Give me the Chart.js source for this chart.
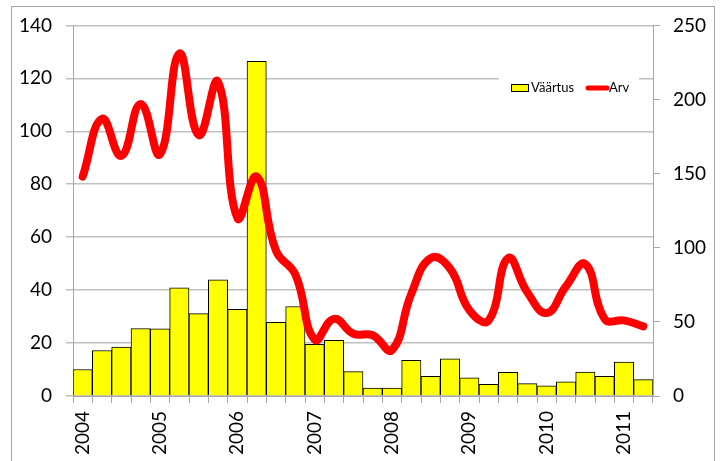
<!DOCTYPE html>
<html>
<head>
<meta charset="utf-8">
<script src="https://cdn.jsdelivr.net/npm/chart.js@4"></script>
<style>
  html, body { margin: 0; padding: 0; background: #fff; }
  canvas { display: block; }
</style>
</head>
<body>
<canvas id="chart" width="721" height="461"></canvas>
<script>
// quarterly categories, 2004 Q1 .. 2011 Q2
const tickLabels = [
    '2004', '', '', '',
    '2005', '', '', '',
    '2006', '', '', '',
    '2007', '', '', '',
    '2008', '', '', '',
    '2009', '', '', '',
    '2010', '', '', '',
    '2011', ''
];

// left axis (bars)
const vaartus = [10, 17.2, 18.5, 25.5, 25.4, 40.9, 31.1, 43.9, 32.7, 126.4,
    27.8, 33.8, 19.5, 21.0, 9.2, 3.0, 3.0, 13.5, 7.4, 14.0,
    6.9, 4.4, 8.9, 4.7, 3.8, 5.4, 9.0, 7.4, 12.8, 6.2];

// right axis (line)
const arv = [148, 187, 162, 197, 163, 231, 176, 212, 120, 148,
    98, 82, 38, 52, 42, 41, 31, 69, 93, 86,
    58, 51, 93, 70, 56, 74, 89, 52, 51, 47];

const FONT = 'Lato, "Open Sans", sans-serif';

const frame = {
    id: 'frame',
    beforeDraw(chart) {
        const ctx = chart.ctx;
        ctx.save();
        ctx.fillStyle = '#fff';
        ctx.fillRect(0, 0, chart.width, chart.height);
        ctx.strokeStyle = '#a6a6a6';
        ctx.lineWidth = 1;
        ctx.strokeRect(11.5, 6.5, 703, 470);
        ctx.restore();
    }
};

const boxLegend = {
    id: 'boxLegend',
    afterDatasetsDraw(chart) {
        const ctx = chart.ctx;
        ctx.save();
        ctx.fillStyle = '#fff';
        ctx.fillRect(499, 70, 140, 36);
        // bar key
        ctx.fillStyle = '#ffff00';
        ctx.fillRect(511, 84, 18, 8);
        ctx.strokeStyle = '#000';
        ctx.lineWidth = 1;
        ctx.strokeRect(511.5, 84.5, 17, 7);
        ctx.font = '13px ' + FONT;
        ctx.fillStyle = '#000';
        ctx.textBaseline = 'middle';
        ctx.fillText('Väärtus', 531, 88);
        // line key
        ctx.strokeStyle = '#ff0000';
        ctx.lineWidth = 5;
        ctx.lineCap = 'round';
        ctx.beginPath();
        ctx.moveTo(588, 88);
        ctx.lineTo(607, 88);
        ctx.stroke();
        ctx.fillStyle = '#000';
        ctx.fillText('Arv', 609, 88);
        ctx.restore();
    }
};

new Chart(document.getElementById('chart'), {
    data: {
        labels: tickLabels,
        datasets: [
            {
                type: 'line',
                label: 'Arv',
                data: arv,
                yAxisID: 'y1',
                borderColor: '#ff0000',
                borderWidth: 8,
                borderCapStyle: 'round',
                borderJoinStyle: 'round',
                pointRadius: 0,
                tension: 0.45,
                order: 0
            },
            {
                type: 'bar',
                label: 'Väärtus',
                data: vaartus,
                yAxisID: 'y',
                backgroundColor: '#ffff00',
                borderColor: '#000',
                borderWidth: 1,
                barPercentage: 1,
                categoryPercentage: 1,
                order: 1
            }
        ]
    },
    options: {
        responsive: false,
        devicePixelRatio: 1,
        animation: false,
        layout: { padding: { top: 25, left: 0, right: 0, bottom: 0 } },
        plugins: {
            legend: { display: false },
            tooltip: { enabled: false }
        },
        scales: {
            x: {
                offset: true,
                grid: {
                    offset: true,
                    drawOnChartArea: false,
                    drawTicks: true,
                    tickLength: 7,
                    color: '#a6a6a6'
                },
                border: { display: true, color: '#a6a6a6' },
                ticks: {
                    autoSkip: false,
                    minRotation: 90,
                    maxRotation: 90,
                    padding: 8,
                    color: '#000',
                    font: { family: FONT, size: 19 }
                },
                afterFit: s => { s.height = 65; }
            },
            y: {
                position: 'left',
                min: 0,
                max: 140,
                grid: {
                    color: '#c0c0c0',
                    lineWidth: 1.5,
                    tickLength: 7
                },
                border: { display: true, color: '#a6a6a6' },
                ticks: {
                    stepSize: 20,
                    padding: 14,
                    color: '#000',
                    font: { family: FONT, size: 19 }
                },
                afterFit: s => { s.width = 73; }
            },
            y1: {
                position: 'right',
                min: 0,
                max: 250,
                grid: {
                    drawOnChartArea: false,
                    tickLength: 7,
                    color: '#a6a6a6'
                },
                border: { display: true, color: '#a6a6a6' },
                ticks: {
                    stepSize: 50,
                    padding: 13,
                    color: '#000',
                    font: { family: FONT, size: 19 }
                },
                afterFit: s => { s.width = 68; }
            }
        }
    },
    plugins: [frame, boxLegend]
});
</script>
</body>
</html>
